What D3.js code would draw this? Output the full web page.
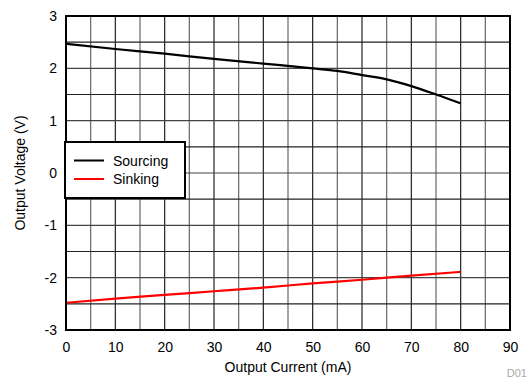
<!DOCTYPE html>
<html><head><meta charset="utf-8">
<script src="https://cdn.jsdelivr.net/npm/d3@7"></script>
<style>body{margin:0;background:#fff}svg{display:block;font-family:"Liberation Sans",Arial,sans-serif}</style>
</head><body><svg id="c" width="528" height="382"></svg>
<script>
const xTicks = [0,10,20,30,40,50,60,70,80,90];
const yTicks = [-3,-2,-1,0,1,2,3];
const sourcingX = [0,10,20,30,40,50,55,60,65,70,75,80];
const sourcingY = [2.47,2.37,2.28,2.18,2.09,2.0,1.95,1.87,1.79,1.66,1.5,1.33];
const sinkingX = [0,10,20,30,40,50,60,70,80];
const sinkingY = [-2.48,-2.40,-2.33,-2.26,-2.19,-2.11,-2.04,-1.96,-1.89];
const seriesNames = ["Sourcing","Sinking"];
const seriesColors = ["#000000","#ff0000"];

const svg = d3.select("#c");
const L=66,R=510,T=16,B=330;
const x = d3.scaleLinear().domain([0,90]).range([L,R]);
const y = d3.scaleLinear().domain([-3,3]).range([B,T]);

const g = svg.append("g");
// grid
d3.range(5,90,5).forEach(v=>{
  g.append("line").attr("x1",x(v)).attr("x2",x(v)).attr("y1",T).attr("y2",B)
   .attr("stroke", v%10===0?"#222":"#666").attr("stroke-width",1.2);
});
d3.range(-2.5,3,0.5).forEach(v=>{
  g.append("line").attr("x1",L).attr("x2",R).attr("y1",y(v)).attr("y2",y(v))
   .attr("stroke", Number.isInteger(v)?"#444":"#222").attr("stroke-width",1.2);
});

// axes
const xAxis = d3.axisBottom(x).tickValues(xTicks).tickSize(0).tickPadding(12).tickFormat(d=>String(d));
svg.append("g").attr("transform",`translate(0,${B})`).call(xAxis)
  .call(a=>a.select(".domain").remove())
  .selectAll("text").attr("font-size",14).attr("fill","#000").attr("font-family","Liberation Sans, Arial, sans-serif");
const yAxis = d3.axisLeft(y).tickValues(yTicks).tickSize(0).tickPadding(9).tickFormat(d=>String(d));
svg.append("g").attr("transform",`translate(${L},0)`).call(yAxis)
  .call(a=>a.select(".domain").remove())
  .selectAll("text").attr("font-size",14).attr("fill","#000").attr("font-family","Liberation Sans, Arial, sans-serif");

// lines
const line = d3.line().x(d=>x(d[0])).y(d=>y(d[1])).curve(d3.curveMonotoneX);
const data = [sourcingX.map((v,i)=>[v,sourcingY[i]]), sinkingX.map((v,i)=>[v,sinkingY[i]])];
data.forEach((d,i)=>{
  svg.append("path").datum(d).attr("d",line).attr("fill","none")
    .attr("stroke",seriesColors[i]).attr("stroke-width",2.2);
});

// frame
svg.append("rect").attr("x",L).attr("y",T).attr("width",R-L).attr("height",B-T)
  .attr("fill","none").attr("stroke","#000").attr("stroke-width",2);

// legend
const lg = svg.append("g");
lg.append("rect").attr("x",65).attr("y",142).attr("width",120).attr("height",56)
  .attr("fill","#fff").attr("stroke","#000").attr("stroke-width",2);
seriesNames.forEach((n,i)=>{
  const yy = 160.5 + i*18.5;
  lg.append("line").attr("x1",74).attr("x2",104).attr("y1",yy).attr("y2",yy)
    .attr("stroke",seriesColors[i]).attr("stroke-width",2);
  lg.append("text").attr("x",113).attr("y",yy+5).attr("font-size",14).text(n);
});

// titles
svg.append("text").attr("x",(L+R)/2).attr("y",372).attr("text-anchor","middle")
  .attr("font-size",14).text("Output Current (mA)");
svg.append("text").attr("transform",`translate(25,${(T+B)/2}) rotate(-90)`).attr("text-anchor","middle")
  .attr("font-size",14).text("Output Voltage (V)");
svg.append("text").attr("x",527).attr("y",377).attr("text-anchor","end")
  .attr("font-size",11).attr("fill","#aaa").text("D01");
</script></body></html>
